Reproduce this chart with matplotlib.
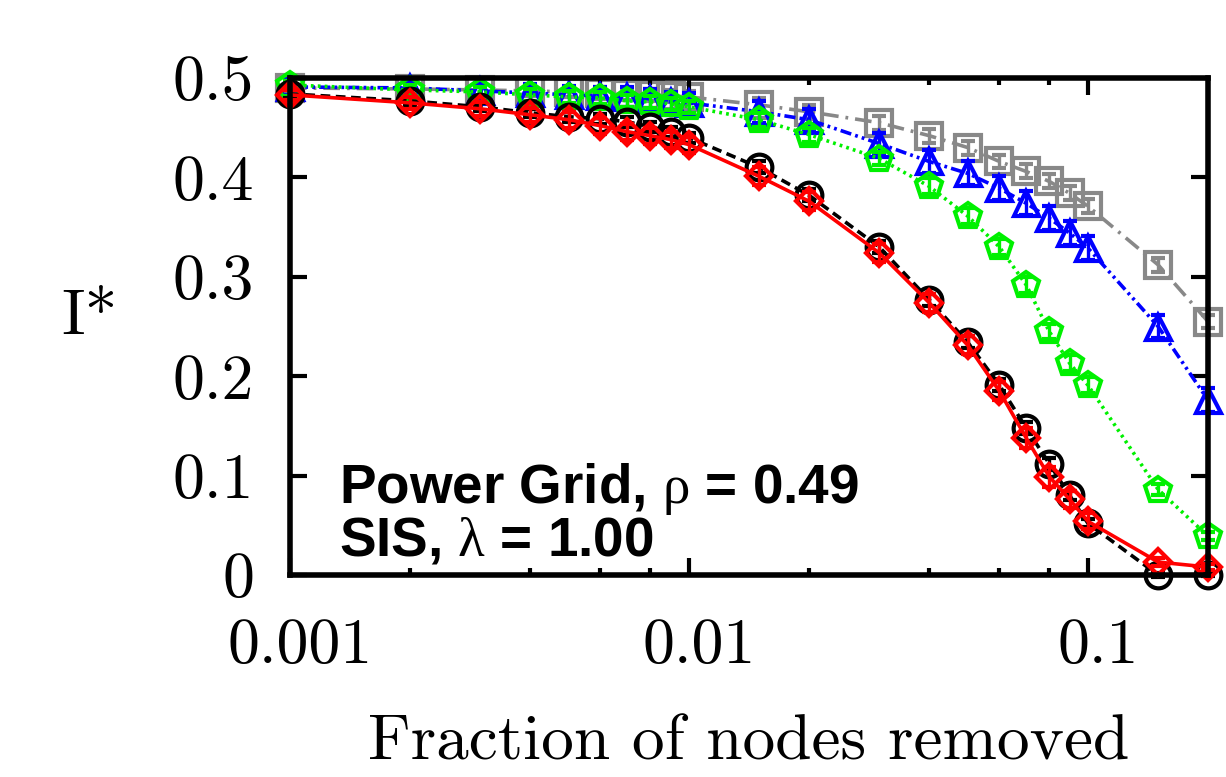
import matplotlib
matplotlib.use("Agg")
import matplotlib.pyplot as plt
import matplotlib.transforms as mtransforms
from matplotlib.ticker import FixedLocator, FixedFormatter, NullLocator

plt.rcParams["font.family"] = ["cmr10", "DejaVu Serif"]
plt.rcParams["mathtext.fontset"] = "custom"
plt.rcParams["mathtext.rm"] = "Liberation Serif"
plt.rcParams["mathtext.it"] = "Liberation Serif"
plt.rcParams["lines.scale_dashes"] = False
plt.rcParams["axes.unicode_minus"] = False

# -- data -----------------------------------------------------------------
frac = [0.001, 0.002, 0.003, 0.004, 0.005, 0.006, 0.007, 0.008, 0.009, 0.01,
        0.015, 0.02, 0.03, 0.04, 0.05, 0.06, 0.07, 0.08, 0.09, 0.1,
        0.15, 0.2]

i_black = [0.484, 0.477, 0.471, 0.465, 0.461, 0.459, 0.456, 0.451, 0.446, 0.440,
           0.410, 0.382, 0.330, 0.277, 0.234, 0.191, 0.148, 0.112, 0.080, 0.052,
           0.0, 0.0]
i_red = [0.483, 0.475, 0.469, 0.463, 0.458, 0.452, 0.446, 0.442, 0.438, 0.433,
         0.401, 0.376, 0.324, 0.274, 0.231, 0.185, 0.138, 0.099, 0.076, 0.054,
         0.013, 0.008]
i_green = [0.493, 0.488, 0.486, 0.483, 0.481, 0.480, 0.477, 0.476, 0.474, 0.471,
           0.458, 0.443, 0.419, 0.391, 0.361, 0.330, 0.292, 0.245, 0.213, 0.191,
           0.086, 0.039]
i_blue = [0.491, 0.490, 0.487, 0.485, 0.483, 0.482, 0.481, 0.479, 0.476, 0.475,
          0.466, 0.458, 0.434, 0.416, 0.404, 0.389, 0.374, 0.359, 0.344, 0.329,
          0.250, 0.176]
i_gray = [0.490, 0.489, 0.488, 0.487, 0.486, 0.485, 0.484, 0.483, 0.482, 0.481,
          0.473, 0.466, 0.455, 0.442, 0.430, 0.416, 0.406, 0.396, 0.384, 0.371,
          0.312, 0.255]

e_black = [0.004, 0.004, 0.004, 0.004, 0.005, 0.005, 0.005, 0.005, 0.005, 0.005,
           0.006, 0.006, 0.006, 0.006, 0.006, 0.006, 0.006, 0.006, 0.005, 0.004,
           0.002, 0.001]
e_red = [0.005, 0.006, 0.007, 0.007, 0.008, 0.008, 0.008, 0.008, 0.008, 0.008,
         0.009, 0.009, 0.009, 0.009, 0.009, 0.009, 0.010, 0.010, 0.009, 0.008,
         0.004, 0.003]
e_green = [0.004, 0.005, 0.005, 0.006, 0.006, 0.006, 0.006, 0.006, 0.006, 0.006,
           0.007, 0.007, 0.007, 0.008, 0.008, 0.008, 0.008, 0.008, 0.008, 0.008,
           0.006, 0.004]
e_blue = [0.008, 0.008, 0.008, 0.009, 0.009, 0.009, 0.010, 0.010, 0.010, 0.010,
          0.011, 0.011, 0.011, 0.012, 0.012, 0.012, 0.012, 0.012, 0.012, 0.012,
          0.012, 0.012]
e_gray = [0.005, 0.005, 0.005, 0.005, 0.005, 0.006, 0.006, 0.006, 0.006, 0.006,
          0.007, 0.007, 0.007, 0.007, 0.007, 0.007, 0.007, 0.007, 0.007, 0.007,
          0.007, 0.007]

xtick_vals = [0.001, 0.01, 0.1]
xtick_labels = ["0.001", "0.01", "0.1"]
xminor_vals = [0.002, 0.004, 0.006, 0.008, 0.02, 0.04, 0.06, 0.08]
ytick_vals = [0, 0.1, 0.2, 0.3, 0.4, 0.5]
ytick_labels = ["0", "0.1", "0.2", "0.3", "0.4", "0.5"]

# -- figure ------------------------------------------------------------------
W, H = 1226, 777
fig = plt.figure(figsize=(W / 100, H / 100), dpi=100)
ax = fig.add_axes([290 / W, 1 - 575 / H, 918 / W, 497 / H])

series = [
    (i_gray, e_gray, "#888888", "s", 19, (12, 5, 2, 5), 1),
    (i_blue, e_blue, "#0000ff", "^", 18, (8, 3, 2, 3, 2, 3), 2),
    (i_green, e_green, "#00f000", "p", 19, (2, 3), 3),
    (i_black, e_black, "black", "o", 18.5, (7, 4), 4),
    (i_red, e_red, "#ff0000", "D", 13.5, None, 5),
]
for y, e, col, mk, ms, dash, z in series:
    kw = dict(dashes=dash) if dash else dict(linestyle="-")
    cont = ax.errorbar(frac, y, yerr=e, color=col, ecolor=col, marker=mk,
                       ms=ms, mfc="none", mec=col, mew=3.0, lw=2.6,
                       elinewidth=2.4, capsize=5, capthick=2.4, zorder=z,
                       **kw)
    for art in cont.get_children():
        art.set_clip_on(False)

ax.set_xscale("log")
ax.set_xlim(0.001, 0.2)
ax.set_ylim(0, 0.5)
ax.xaxis.set_major_locator(FixedLocator(xtick_vals))
ax.xaxis.set_major_formatter(FixedFormatter(xtick_labels))
ax.xaxis.set_minor_locator(FixedLocator(xminor_vals))
ax.xaxis.set_minor_formatter(FixedFormatter([]))
ax.yaxis.set_major_locator(FixedLocator(ytick_vals))
ax.yaxis.set_major_formatter(FixedFormatter(ytick_labels))
ax.yaxis.set_minor_locator(NullLocator())

ax.tick_params(which="both", direction="in", top=True, right=True,
               width=3, labelsize=46)
ax.tick_params(which="major", length=12)
ax.tick_params(which="minor", length=5)
ax.tick_params(axis="x", pad=31)
ax.tick_params(axis="y", pad=26)
for sp in ax.spines.values():
    sp.set_linewidth(4)
    sp.set_zorder(10)

# gnuplot/latex labels sit slightly right of their ticks
shift = mtransforms.ScaledTranslation(10 / 100, 0, fig.dpi_scale_trans)
for lab in ax.get_xticklabels():
    lab.set_transform(lab.get_transform() + shift)

ax.set_xlabel("Fraction of nodes removed", fontsize=47, va="baseline")
ax.xaxis.set_label_coords(0.5, (575 - 760) / 497)
ax.set_ylabel("I*", fontsize=47, rotation=0, va="center", ha="center")
ax.yaxis.set_label_coords((89 - 290) / 918, (575 - 318) / 497)

ax.text((339 - 290) / 918, (575 - 503) / 497, r"Power Grid, $\mathrm{\rho}$ = 0.49",
        transform=ax.transAxes, family="Liberation Sans", fontweight="bold",
        fontsize=39.5, va="baseline", ha="left", zorder=20)
ax.text((339 - 290) / 918, (575 - 555) / 497, r"SIS, $\mathrm{\lambda}$ = 1.00",
        transform=ax.transAxes, family="Liberation Sans", fontweight="bold",
        fontsize=39.5, va="baseline", ha="left", zorder=20)

fig.savefig("out.png", dpi=100)
